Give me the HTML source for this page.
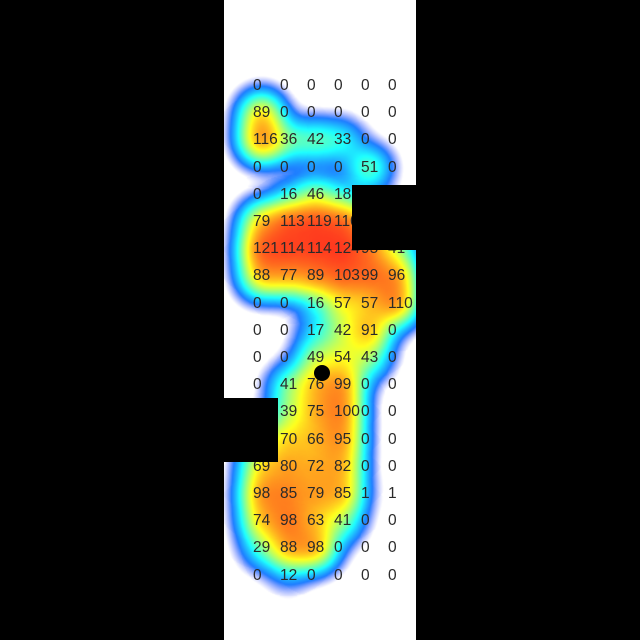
<!DOCTYPE html>
<html><head><meta charset="utf-8"><style>
html,body{margin:0;padding:0;background:#000;}
#wrap{position:relative;width:640px;height:640px;background:#000;overflow:hidden;}
#panel{position:absolute;left:224px;top:0;width:192px;height:640px;background:#fff;}
canvas{position:absolute;left:224px;top:0;}
.lbl{position:absolute;font-family:"Liberation Sans",sans-serif;font-size:15.5px;color:#2a2a2a;line-height:16px;white-space:nowrap;}
.blk{position:absolute;background:#000;}
</style></head><body>
<div id="wrap">
<div id="panel"></div>
<canvas id="cv" width="192" height="640"></canvas>
<div id="labels"></div>
<div class="blk" style="left:352px;top:185px;width:64px;height:65px"></div>
<div class="blk" style="left:224px;top:398px;width:54px;height:64px"></div>
<div style="position:absolute;left:314px;top:365px;width:16px;height:16px;border-radius:50%;background:#000"></div>
</div>
<script>
const row0=[0,0,0,0,0,0];
const row1=[89,0,0,0,0,0];
const row2=[116,36,42,33,0,0];
const row3=[0,0,0,0,51,0];
const row4=[0,16,46,18,0,0];
const row5=[79,113,119,110,60,20];
const row6=[121,114,114,124,95,41];
const row7=[88,77,89,103,99,96];
const row8=[0,0,16,57,57,110];
const row9=[0,0,17,42,91,0];
const row10=[0,0,49,54,43,0];
const row11=[0,41,76,99,0,0];
const row12=[0,39,75,100,0,0];
const row13=[40,70,66,95,0,0];
const row14=[69,80,72,82,0,0];
const row15=[98,85,79,85,1,1];
const row16=[74,98,63,41,0,0];
const row17=[29,88,98,0,0,0];
const row18=[0,12,0,0,0,0];
const rows=[row0,row1,row2,row3,row4,row5,row6,row7,row8,row9,row10,row11,row12,row13,row14,row15,row16,row17,row18];

function xCol(c){return 253+c*27;}
function xCenter(c){return 261+c*27;}
function yRow(r){return 86+r*27.2;}

const lab=document.getElementById('labels');
rows.forEach((row,r)=>row.forEach((v,c)=>{
  const d=document.createElement('div');
  d.className='lbl';
  
  
  d.style.left=xCol(c)+'px';
  d.style.top=(yRow(r)-8)+'px';
  d.textContent=v;
  lab.appendChild(d);
}));

function jet(t){
  t=Math.max(0,Math.min(1,t));
  const r=Math.max(0,Math.min(1,1.5-Math.abs(4*t-3)));
  const g=Math.max(0,Math.min(1,1.5-Math.abs(4*t-2)));
  const b=Math.max(0,Math.min(1,1.5-Math.abs(4*t-1)));
  return [r*255,g*255,b*255];
}
const cv=document.getElementById('cv');
const ctx=cv.getContext('2d');
const img=ctx.createImageData(192,640);
const pts=[];
rows.forEach((row,r)=>row.forEach((v,c)=>{if(v>0)pts.push([xCenter(c)-224,yRow(r),v]);}));
const sig=15,s2=2*sig*sig,K=120;
for(let y=0;y<640;y++)for(let x=0;x<192;x++){
  let f=0;
  for(const p of pts){const dx=x-p[0],dy=y-p[1];const d=dx*dx+dy*dy;if(d<5*s2)f+=p[2]*Math.exp(-d/s2);}
  const t=1-Math.exp(-f/K);
  if(t<0.03)continue;
  const col=jet(0.12+t*0.86);
  const a=Math.min(1,(t-0.03)/0.1);
  const i=(y*192+x)*4;
  img.data[i]=col[0];img.data[i+1]=col[1];img.data[i+2]=col[2];img.data[i+3]=a*225;
}
ctx.putImageData(img,0,0);
</script>
</body></html>
